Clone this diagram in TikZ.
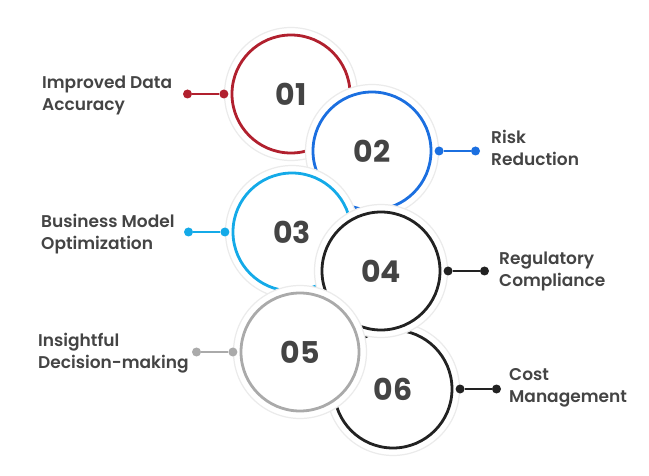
\documentclass[tikz,border=0pt]{standalone}
\usepackage{fontspec}
\setmainfont{Poppins}[BoldFont={Poppins SemiBold}]
\newfontfamily\numfont{Poppins}
\usetikzlibrary{positioning}

\definecolor{txtgray}{HTML}{444444}
\definecolor{redring}{HTML}{B1202E}
\definecolor{bluering}{HTML}{1B6FE0}
\definecolor{cyanring}{HTML}{14AAE8}
\definecolor{darkring}{HTML}{222222}
\definecolor{grayring}{HTML}{AAAAAA}

\begin{document}
\begin{tikzpicture}[x=1pt, y=-1pt,
    every node/.style={text=txtgray},
    halo/.style={circle, draw=black!8, line width=1.2pt, fill=white, minimum size=133pt, inner sep=0pt},
    ring/.style={circle, draw=#1, line width=2.8pt, minimum size=118pt, inner sep=0pt,
      font=\numfont\fontsize{30}{30}\selectfont\bfseries},
    dot/.style={circle, fill=#1, minimum size=9pt, inner sep=0pt},
    link/.style={draw=#1, line width=2.4pt},
    lab/.style={font=\fontsize{17}{22}\selectfont\bfseries, align=left, inner sep=0pt, anchor=west},
  ]
  \useasboundingbox (0,0) rectangle (649,476);

  % circle 06 sits behind 04 and 05
  \node[halo] (h6) at (393,389) {};
  \node[ring=darkring] (c6) at (h6) {06};

  \node[halo] (h1) at (291,94) {};
  \node[ring=redring] (c1) at (h1) {01};
  \node[halo] (h2) at (372,151) {};
  \node[ring=bluering] (c2) at (h2) {02};
  \node[halo] (h3) at (292,232) {};
  \node[ring=cyanring] (c3) at (h3) {03};
  \node[halo] (h4) at (381,271) {};
  \node[ring=darkring] (c4) at (h4) {04};
  \node[halo] (h5) at (300,352) {};
  \node[ring=grayring] (c5) at (h5) {05};

  % connector dots
  \node[dot=redring]  (p1) at (h1.west) {};
  \node[dot=redring, left=27pt of p1] (q1) {};
  \node[dot=bluering] (p2) at (h2.east) {};
  \node[dot=bluering, right=27pt of p2] (q2) {};
  \node[dot=cyanring] (p3) at (h3.west) {};
  \node[dot=cyanring, left=27pt of p3] (q3) {};
  \node[dot=darkring] (p4) at (h4.east) {};
  \node[dot=darkring, right=27pt of p4] (q4) {};
  \node[dot=grayring] (p5) at (h5.west) {};
  \node[dot=grayring, left=27pt of p5] (q5) {};
  \node[dot=darkring] (p6) at (h6.east) {};
  \node[dot=darkring, right=27pt of p6] (q6) {};

  \draw[link=redring]  (p1) -- (q1);
  \draw[link=bluering] (p2) -- (q2);
  \draw[link=cyanring] (p3) -- (q3);
  \draw[link=darkring] (p4) -- (q4);
  \draw[link=grayring] (p5) -- (q5);
  \draw[link=darkring] (p6) -- (q6);

  % labels
  \node[lab] (t1) at (42,95)  {Improved Data\\Accuracy};
  \node[lab] (t2) at (491,148) {Risk\\Reduction};
  \node[lab] (t3) at (41,234) {Business Model\\Optimization};
  \node[lab] (t4) at (499,271) {Regulatory\\Compliance};
  \node[lab] (t5) at (38,353) {Insightful\\Decision-making};
  \node[lab] (t6) at (509,388) {Cost\\Management};
\end{tikzpicture}
\end{document}
